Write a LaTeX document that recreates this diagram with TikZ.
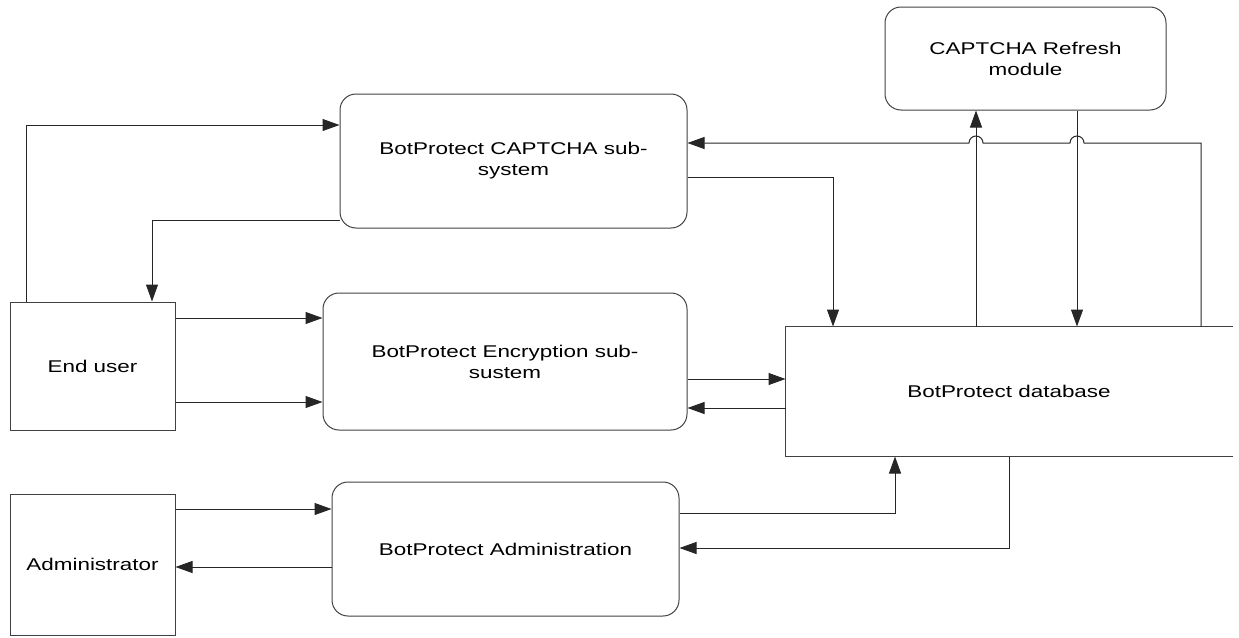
\documentclass[tikz,border=0pt]{standalone}
\usepackage{fontspec}
\newfontfamily\lblfont{Liberation Sans}[FakeStretch=1.32]
\usetikzlibrary{arrows.meta}
\begin{document}
\begin{tikzpicture}[x=1pt,y=-1pt,
  box/.style={draw=black!75, line width=1pt, inner sep=0pt, align=center,
    font=\lblfont\fontsize{17}{21}\selectfont},
  rbox/.style={box, rounded corners=16pt},
  arr/.style={draw=black!85, line width=1pt, -{Triangle[length=17pt,width=12pt]}}]
\useasboundingbox (0,0) rectangle (1239,637);

% modules
\node[rbox, minimum width=281, minimum height=103] (refresh) at (1025.5,58.5)
  {CAPTCHA Refresh\\module};
\node[rbox, minimum width=347, minimum height=134] (captcha) at (513.5,161)
  {BotProtect CAPTCHA sub-\\system};
\node[rbox, minimum width=364, minimum height=137] (enc) at (505,361.5)
  {BotProtect Encryption sub-\\sustem};
\node[rbox, minimum width=347, minimum height=134] (admin) at (505.5,549)
  {BotProtect Administration};

% actors
\node[box, minimum width=165, minimum height=128] (user) at (92.5,366) {End user};
\node[box, minimum width=165, minimum height=141] (administrator) at (92.5,564.5) {Administrator};

% database, open on the right
\node[box, draw=none, minimum width=446, minimum height=129] (db) at (1009,391.5)
  {BotProtect database};
\draw[black!75, line width=1pt] (db.north east) -- (db.north west)
  -- (db.south west) -- (db.south east);

% end user <-> CAPTCHA sub-system
\draw[arr] (26,0 |- user.north) |- (captcha.west |- 0,125);
\draw[arr] (captcha.west |- 0,220) -| (152,0 |- user.north);

% end user -> encryption
\draw[arr] (user.east |- 0,318) -- (enc.west |- 0,318);
\draw[arr] (user.east |- 0,402) -- (enc.west |- 0,402);

% encryption <-> database
\draw[arr] (enc.east |- 0,379) -- (db.west |- 0,379);
\draw[arr] (db.west |- 0,408) -- (enc.east |- 0,408);

% CAPTCHA sub-system -> database
\draw[arr] (captcha.east |- 0,177) -| (833,0 |- db.north);

% database <-> refresh module
\draw[arr] (976,0 |- db.north) -- (976,0 |- refresh.south);
\draw[arr] (1077,0 |- refresh.south) -- (1077,0 |- db.north);

% database -> CAPTCHA sub-system, hopping over the refresh lines
\draw[arr] (1201,0 |- db.north) -- (1201,143) -- (1084,143)
  arc[start angle=0, end angle=180, radius=7pt] -- (983,143)
  arc[start angle=0, end angle=180, radius=7pt] -- (captcha.east |- 0,143);

% administration <-> database
\draw[arr] (admin.east |- 0,513) -| (895,0 |- db.south);
\draw[arr] (1009,0 |- db.south) |- (admin.east |- 0,548);

% administrator <-> administration
\draw[arr] (administrator.east |- 0,509) -- (admin.west |- 0,509);
\draw[arr] (admin.west |- 0,567) -- (administrator.east |- 0,567);
\end{tikzpicture}
\end{document}
